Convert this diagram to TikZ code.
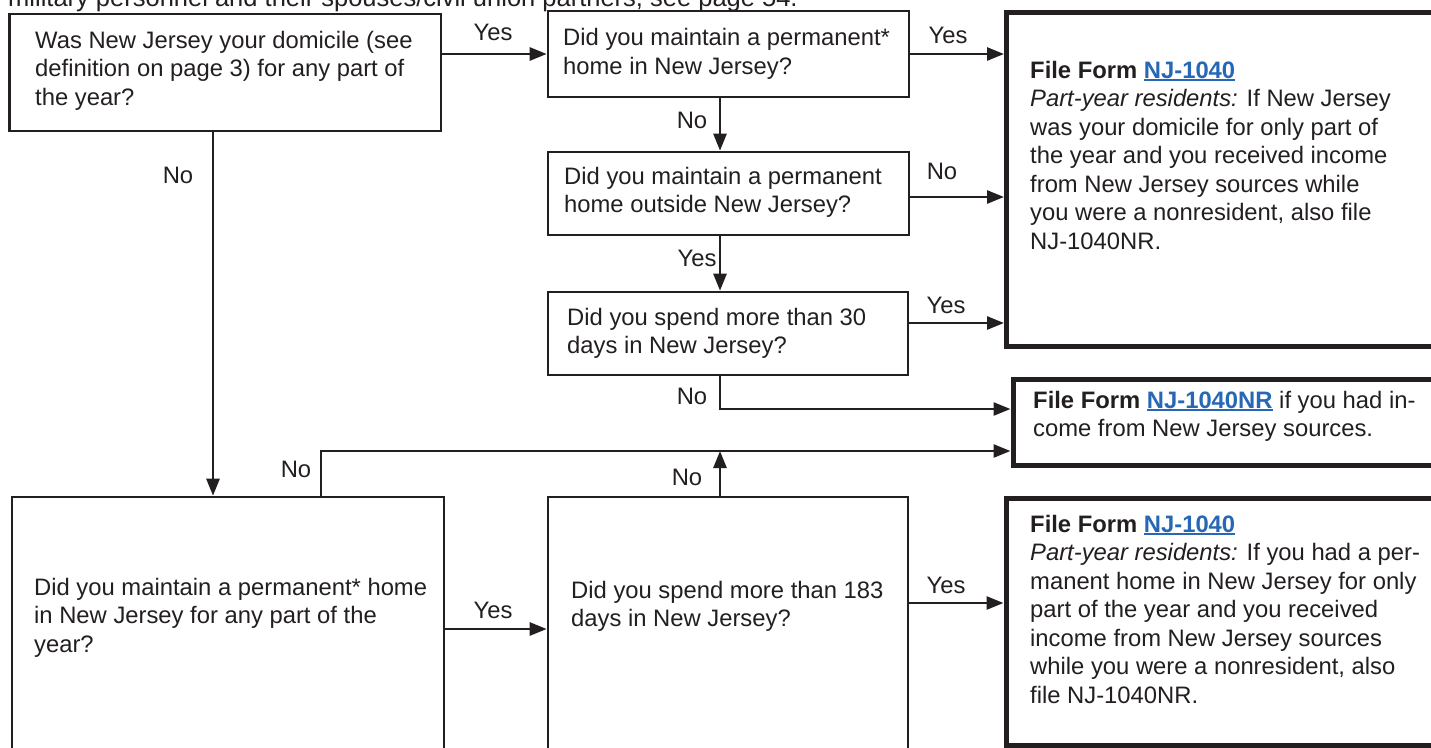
\documentclass[tikz,border=0pt]{standalone}
\usepackage{fontspec}
\setmainfont{Liberation Sans}
\usetikzlibrary{arrows.meta}
\definecolor{ink}{RGB}{35,31,32}
\definecolor{linkblue}{RGB}{38,104,182}
\newcommand\myfs{\fontsize{23.8}{28.5}\selectfont}
\newcommand\lnk[1]{\textcolor{linkblue}{\setbox0\hbox{#1}\rlap{\rule[-2.6pt]{\wd0}{1.7pt}}\box0}}
\begin{document}
\begin{tikzpicture}[x=1pt,y=-1pt,
  thinbox/.style={draw=ink, line width=2.6pt, inner sep=0pt, rectangle},
  thickbox/.style={draw=ink, line width=5pt, inner sep=0pt, rectangle},
  txt/.style={anchor=north west, inner sep=0pt, align=left, font=\myfs, text=ink},
  lab/.style={inner sep=0pt, font=\myfs, text=ink},
  arr/.style={draw=ink, line width=2.6pt, line join=miter, -{Triangle[length=17pt,width=13pt]}}]
\useasboundingbox (0,0) rectangle (1431,747);
\fill[white] (0,0) rectangle (1431,747);
\clip (0,0) rectangle (1431,747);

% top clipped line of running text
\node[txt, font=\fontsize{25.5}{30}\selectfont] (top) at (8,-15) {\strut military personnel and their spouses/civil union partners, see page 54.};

% boxes
\node[thinbox, minimum width=431.5pt, minimum height=117pt] (A) at (225.25,72.5) {};
\node[thinbox, minimum width=361pt, minimum height=86pt] (B) at (728.5,54) {};
\node[thinbox, minimum width=361pt, minimum height=83pt] (C) at (728.5,193.5) {};
\node[thinbox, minimum width=360pt, minimum height=83pt] (D) at (728,333.5) {};
\node[thinbox, minimum width=360pt, minimum height=263pt] (E) at (728,628.5) {};
\node[thinbox, minimum width=432pt, minimum height=263pt] (I) at (228,628.5) {};
\node[thickbox, minimum width=443.5pt, minimum height=334pt] (F) at (1228.25,179.5) {};
\node[thickbox, minimum width=437pt, minimum height=85.5pt] (G) at (1231.5,422.25) {};
\node[thickbox, minimum width=444pt, minimum height=246.5pt] (H) at (1228,621.75) {};

% box texts
\node[txt] (tA) at (35,28) {\strut Was New Jersey your domicile (see\\definition on page 3) for any part of\\the year?};
\node[txt] (tB) at (563,25.5) {\strut Did you maintain a permanent*\\home in New Jersey?};
\node[txt] (tC) at (564,164) {\strut Did you maintain a permanent\\home outside New Jersey?};
\node[txt] (tD) at (567,305) {\strut Did you spend more than 30\\days in New Jersey?};
\node[txt] (tE) at (571,578) {\strut Did you spend more than 183\\days in New Jersey?};
\node[txt] (tI) at (34,575) {\strut Did you maintain a permanent* home\\in New Jersey for any part of the\\year?};
\node[txt] (tF) at (1030,58) {\strut\textbf{File Form \lnk{NJ-1040}}\\\textit{Part-year residents:} If New Jersey\\was your domicile for only part of\\the year and you received income\\from New Jersey sources while\\you were a nonresident, also file\\NJ-1040NR.};
\node[txt] (tG) at (1033,388) {\strut\textbf{File Form \lnk{NJ-1040NR}} if you had in-\\come from New Jersey sources.};
\node[txt] (tH) at (1030,512) {\strut\textbf{File Form \lnk{NJ-1040}}\\\textit{Part-year residents:} If you had a per-\\manent home in New Jersey for only\\part of the year and you received\\income from New Jersey sources\\while you were a nonresident, also\\file NJ-1040NR.};

% helper coordinates
\coordinate (vx) at (720,0);
\coordinate (xA) at (213,0);
\coordinate (xI) at (321,0);
\coordinate (yC) at (0,197);
\coordinate (yD) at (0,323);
\coordinate (yG1) at (0,409);
\coordinate (yG2) at (0,451);
\coordinate (yE) at (0,629);
\coordinate (yH) at (0,603);

% connectors
\draw[arr] (A.east |- B.west) -- (B.west);
\draw[arr] (B.east) -- (F.west |- B.east);
\draw[arr] (B.south -| vx) -- (C.north -| vx);
\draw[arr] (C.east |- yC) -- (F.west |- yC);
\draw[arr] (C.south -| vx) -- (D.north -| vx);
\draw[arr] (D.east |- yD) -- (F.west |- yD);
\draw[arr] (D.south -| vx) -- (vx |- yG1) -- (G.west |- yG1);
\draw[arr] (I.north -| xI) -- (xI |- yG2) -- (G.west |- yG2);
\draw[arr] (E.north -| vx) -- (vx |- yG2);
\draw[arr] (A.south -| xA) -- (I.north -| xA);
\draw[arr] (I.east |- yE) -- (E.west |- yE);
\draw[arr] (E.east |- yH) -- (H.west |- yH);

% connector labels
\node[lab] (l1) at (493,32) {Yes};
\node[lab] (l2) at (948,35) {Yes};
\node[lab] (l3) at (692,120) {No};
\node[lab] (l4) at (942,171) {No};
\node[lab] (l5) at (697,258) {Yes};
\node[lab] (l6) at (946,305) {Yes};
\node[lab] (l7) at (692,396) {No};
\node[lab] (l8) at (687,477) {No};
\node[lab] (l9) at (296,469) {No};
\node[lab] (l10) at (493,610) {Yes};
\node[lab] (l11) at (946,585) {Yes};
\node[lab] (l12) at (178,175) {No};
\end{tikzpicture}
\end{document}
